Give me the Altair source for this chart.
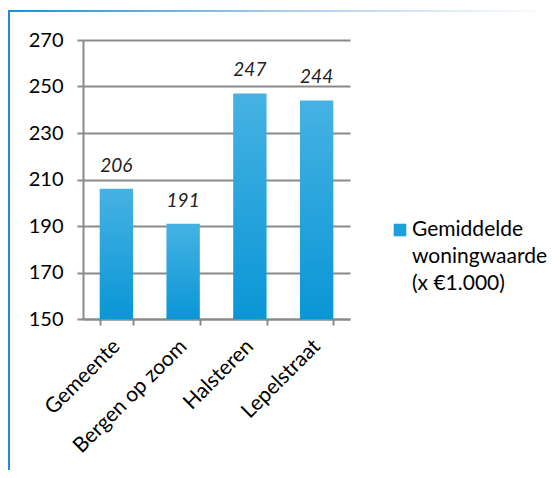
import altair as alt
import pandas as pd

categories = ["Gemeente", "Bergen op zoom", "Halsteren", "Lepelstraat"]
values = [206, 191, 247, 244]
legend_lines = ["Gemiddelde", "woningwaarde", "(x €1.000)"]
y_ticks = [150, 170, 190, 210, 230, 250, 270]
y_min, y_max = 150, 270

df = pd.DataFrame({"cat": categories, "val": values})

FONT = "Lato"
W, H = 267, 279
PAD_L, PAD_T = 75, 32

grad = alt.Gradient(
    gradient="linear",
    stops=[alt.GradientStop(offset=0, color="#46B2E3"),
           alt.GradientStop(offset=1, color="#0A96D6")],
    x1=0, x2=0, y1=0, y2=1,
)

x = alt.X("cat:N", sort=categories, title=None,
          scale=alt.Scale(paddingInner=0.5, paddingOuter=0.25),
          axis=alt.Axis(labelAngle=-45, labelAlign="right", labelBaseline="middle",
                        labelFontSize=21, labelFont=FONT, labelColor="#000",
                        labelPadding=18, tickBand="extent", tickSize=6,
                        tickColor="#8a8a8a", tickWidth=2,
                        domainColor="#8a8a8a", domainWidth=2, grid=False))
y = alt.Y("val:Q", title=None,
          scale=alt.Scale(domain=[y_min, y_max], nice=False, zero=False),
          axis=alt.Axis(values=y_ticks, labelFontSize=20, labelFont=FONT,
                        labelColor="#000", labelPadding=14, tickSize=6,
                        tickColor="#8a8a8a", tickWidth=2,
                        domainColor="#8a8a8a", domainWidth=2,
                        grid=True, gridColor="#8a8a8a", gridWidth=2))

bars = alt.Chart(df).mark_bar(color=grad).encode(x=x, y=y, y2=alt.datum(y_min))

labels = alt.Chart(df).mark_text(
    font=FONT, fontSize=19, fontStyle="italic", color="#222",
    baseline="alphabetic", dy=-17
).encode(x=alt.X("cat:N", sort=categories), y="val:Q", text="val:Q")

legend_sym = alt.Chart(df).mark_square(size=160, color="#1BA1DC", opacity=1).encode(
    x=alt.value(W + 50), y=alt.value(190)
).transform_filter("datum.cat == 'Gemeente'")

legend_txt = alt.Chart(df).mark_text(
    font=FONT, fontSize=21, color="#000", align="left", baseline="alphabetic", lineHeight=27
).encode(
    x=alt.value(W + 62), y=alt.value(196), text=alt.value(legend_lines)
).transform_filter("datum.cat == 'Gemeente'")

frame_left = alt.Chart(df).mark_rect(color="#1A8FD3").encode(
    x=alt.value(-PAD_L), x2=alt.value(-PAD_L + 2),
    y=alt.value(-PAD_T + 2), y2=alt.value(H + 151)
).transform_filter("datum.cat == 'Gemeente'")

frame_top = alt.Chart(df).mark_rect(
    color=alt.Gradient(gradient="linear",
                       stops=[alt.GradientStop(offset=0, color="#1A8FD3"),
                              alt.GradientStop(offset=0.5, color="#A9CBEA"),
                              alt.GradientStop(offset=1, color="#FFFFFF")],
                       x1=0, x2=1, y1=0, y2=0)
).encode(
    x=alt.value(-PAD_L), x2=alt.value(W + 202),
    y=alt.value(-PAD_T + 2), y2=alt.value(-PAD_T + 4)
).transform_filter("datum.cat == 'Gemeente'")

chart = alt.layer(bars, labels, legend_sym, legend_txt, frame_left, frame_top).properties(
    width=W, height=H,
    autosize=alt.AutoSizeParams(type="none"),
    padding={"left": PAD_L, "top": PAD_T, "right": 202, "bottom": 151},
    background="white",
).configure_view(stroke=None)

chart.save("out.html", embed_options={"renderer": "svg", "actions": False})
